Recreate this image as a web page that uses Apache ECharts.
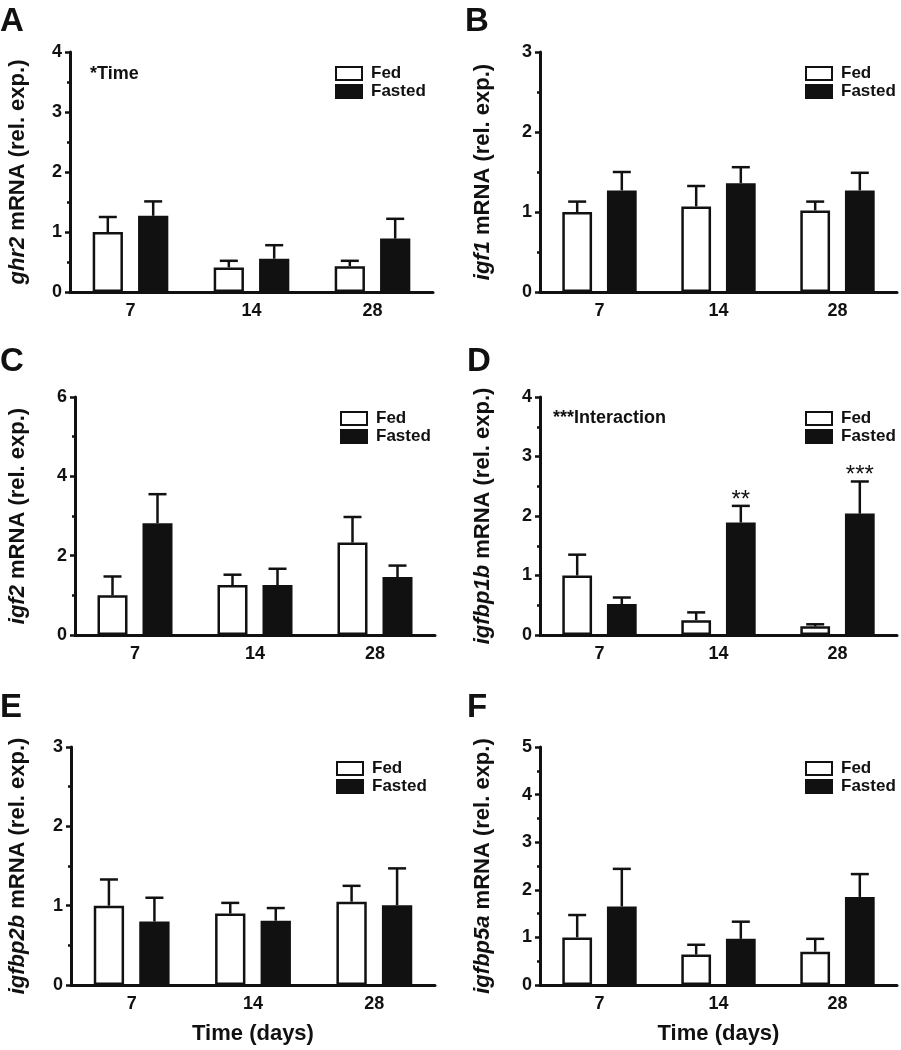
<!DOCTYPE html>
<html>
<head>
<meta charset="utf-8">
<script src="https://cdn.jsdelivr.net/npm/echarts@6/dist/echarts.min.js"></script>
<style>
  html, body { margin: 0; padding: 0; background: #fff; }
  #chart { width: 901px; height: 1050px; }
</style>
</head>
<body>
<div id="chart"></div>
<script>
// days on the x axis
var days = ['7', '14', '28'];
var genes = ['ghr2', 'igf1', 'igf2', 'igfbp1b', 'igfbp2b', 'igfbp5a'];
var panelLetters = ['A', 'B', 'C', 'D', 'E', 'F'];
var yMax = [4, 3, 6, 4, 3, 5];
var yStep = [1, 1, 2, 1, 1, 1];

// mean and SEM
var fedMean = [
    [1.00, 0.41, 0.43],
    [1.00, 1.07, 1.02],
    [1.00, 1.26, 2.33],
    [1.00, 0.25, 0.145],
    [1.00, 0.90, 1.05],
    [1.00, 0.64, 0.70]
];
var fedSem = [
    [0.25, 0.11, 0.09],
    [0.13, 0.255, 0.11],
    [0.475, 0.26, 0.645],
    [0.35, 0.13, 0.035],
    [0.33, 0.135, 0.20],
    [0.47, 0.205, 0.27]
];
var fastedMean = [
    [1.27, 0.555, 0.89],
    [1.27, 1.36, 1.27],
    [2.82, 1.26, 1.46],
    [0.52, 1.89, 2.04],
    [0.80, 0.81, 1.005],
    [1.65, 0.97, 1.85]
];
var fastedSem = [
    [0.24, 0.225, 0.33],
    [0.23, 0.20, 0.22],
    [0.73, 0.41, 0.29],
    [0.11, 0.28, 0.54],
    [0.30, 0.16, 0.465],
    [0.79, 0.36, 0.48]
];
var fastedSig = [
    ['', '', ''],
    ['', '', ''],
    ['', '', ''],
    ['', '**', '***'],
    ['', '', ''],
    ['', '', '']
];
var panelNotes = ['*Time', '', '', '***Interaction', '', ''];

var FONT = '"Liberation Sans", Arial, sans-serif';
var INK = '#111';

// grid boxes of the six panels
var grids = [
    { left: 70, top: 52, width: 363, height: 240 },
    { left: 540, top: 52, width: 357, height: 240 },
    { left: 75, top: 397, width: 360, height: 238 },
    { left: 540, top: 397, width: 357, height: 238 },
    { left: 71, top: 747, width: 364, height: 238 },
    { left: 540, top: 747, width: 357, height: 238 }
];
var nameGaps = [41, 46, 46, 46, 42, 46];
var letterPos = [[0, 5], [465, 5], [0, 345], [467, 345], [0, 691], [467, 691]];
var notePos = [[90, 74], null, null, [553, 418], null, null];

function errRender(side, sig) {
    return function(params, api) {
        var band = api.size([1, 0])[0];
        var barW = band * 0.25;
        var x = api.coord([api.value(0), 0])[0] + side * barW * 0.75;
        var y0 = api.coord([api.value(0), api.value(1)])[1];
        var y1 = api.coord([api.value(0), api.value(2)])[1];
        var cap = 9;
        var st = { stroke: INK, lineWidth: 2.5 };
        var children = [
            { type: 'line', shape: { x1: x, y1: y0, x2: x, y2: y1 }, style: st },
            { type: 'line', shape: { x1: x - cap, y1: y1, x2: x + cap, y2: y1 }, style: st }
        ];
        var s = sig ? sig[params.dataIndex] : '';
        if (s) {
            children.push({
                type: 'text',
                style: {
                    text: s, x: x, y: y1 - 6, textAlign: 'center', textVerticalAlign: 'middle',
                    font: '24px ' + FONT, fill: INK
                }
            });
        }
        return { type: 'group', children: children };
    };
}

function chart() {
    var myChart = echarts.init(document.getElementById('chart'));
    var grid = [], xAxis = [], yAxis = [], series = [], legend = [], graphic = [];

    for (var i = 0; i < 6; i++) {
        var g = grids[i];
        grid.push(g);
        xAxis.push({
            type: 'category',
            gridIndex: i,
            data: days,
            name: i >= 4 ? 'Time (days)' : '',
            nameLocation: 'middle',
            nameGap: 38,
            nameTextStyle: { fontSize: 22, fontWeight: 'bold', color: INK, fontFamily: FONT },
            axisLine: { lineStyle: { color: INK, width: 3 } },
            axisTick: { show: false },
            axisLabel: { fontSize: 18, fontWeight: 'bold', color: INK, fontFamily: FONT, margin: 10 }
        });
        yAxis.push({
            type: 'value',
            gridIndex: i,
            min: 0,
            max: yMax[i],
            interval: yStep[i],
            name: '{i|' + genes[i] + '} mRNA (rel. exp.)',
            nameLocation: 'middle',
            nameGap: nameGaps[i],
            nameTextStyle: {
                fontSize: 22, fontWeight: 'bold', color: INK, fontFamily: FONT,
                rich: { i: { fontSize: 22, fontWeight: 'bold', fontStyle: 'italic', color: INK, fontFamily: FONT } }
            },
            axisLine: { show: true, lineStyle: { color: INK, width: 3 } },
            axisTick: { show: true, length: 5, lineStyle: { color: INK, width: 2.5 } },
            minorTick: { show: true, splitNumber: 2, length: 3, lineStyle: { color: INK, width: 2.5 } },
            splitLine: { show: false },
            axisLabel: { fontSize: 18, fontWeight: 'bold', color: INK, fontFamily: FONT, margin: 8 }
        });

        var fedUp = [], fastUp = [];
        for (var k = 0; k < days.length; k++) {
            fedUp.push([k, fedMean[i][k], fedMean[i][k] + fedSem[i][k]]);
            fastUp.push([k, fastedMean[i][k], fastedMean[i][k] + fastedSem[i][k]]);
        }

        series.push({
            name: 'Fed', type: 'bar', xAxisIndex: i, yAxisIndex: i,
            data: fedMean[i], barWidth: '25%', barGap: '50%',
            itemStyle: { color: '#fff', borderColor: INK, borderWidth: 2.5 }
        });
        series.push({
            name: 'Fasted', type: 'bar', xAxisIndex: i, yAxisIndex: i,
            data: fastedMean[i], barWidth: '25%', barGap: '50%',
            itemStyle: { color: INK, borderColor: INK, borderWidth: 2.5 }
        });
        series.push({
            type: 'custom', xAxisIndex: i, yAxisIndex: i, z: 3,
            renderItem: errRender(-1, null), data: fedUp, encode: { x: 0, y: [1, 2] }
        });
        series.push({
            type: 'custom', xAxisIndex: i, yAxisIndex: i, z: 3,
            renderItem: errRender(1, fastedSig[i]), data: fastUp, encode: { x: 0, y: [1, 2] }
        });

        legend.push({
            data: ['Fed', 'Fasted'],
            orient: 'vertical',
            left: g.left + 260,
            top: g.top + 7.5,
            itemWidth: 26,
            itemHeight: 13,
            itemGap: 0,
            icon: 'rect',
            selectedMode: false,
            itemStyle: { borderColor: INK, borderWidth: 2 },
            textStyle: { fontSize: 17, fontWeight: 'bold', color: INK, fontFamily: FONT, lineHeight: 18, padding: [0, 0, 0, 4] }
        });

        graphic.push({
            type: 'text', left: letterPos[i][0], top: letterPos[i][1],
            style: { text: panelLetters[i], font: 'bold 33px ' + FONT, fill: INK }
        });
        if (panelNotes[i]) {
            graphic.push({
                type: 'text', x: notePos[i][0], y: notePos[i][1],
                style: { text: panelNotes[i], font: 'bold 18px ' + FONT, fill: INK, textVerticalAlign: 'middle' }
            });
        }
    }

    var option = {
        backgroundColor: '#fff',
        animation: false,
        grid: grid,
        xAxis: xAxis,
        yAxis: yAxis,
        legend: legend,
        graphic: graphic,
        series: series
    };
    myChart.setOption(option);
}

window.onload = function() {
    chart();
};
</script>
</body>
</html>
